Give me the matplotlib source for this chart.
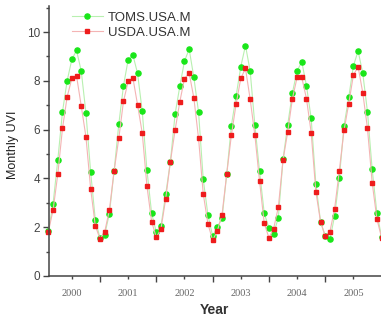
"""Monthly UVI 2000-2005: TOMS satellite vs USDA ground network (USA means)."""
import numpy as np
import matplotlib
matplotlib.use("Agg")
import matplotlib.pyplot as plt

years = [2000, 2001, 2002, 2003, 2004, 2005]
year_labels = ["2000", "2001", "2002", "2003", "2004", "2005"]

# monthly values Jan..Dec, one row per year
toms = [
    [1.85, 2.97, 4.75, 6.73, 8.01, 8.88, 9.25, 8.40, 6.69, 4.27, 2.30, 1.55],
    [1.70, 2.56, 4.30, 6.22, 7.80, 8.87, 9.07, 8.31, 6.75, 4.34, 2.57, 1.80],
    [2.06, 3.35, 4.69, 6.64, 7.77, 8.81, 9.30, 8.14, 6.72, 3.96, 2.50, 1.64],
    [2.01, 2.36, 4.17, 6.17, 7.38, 8.58, 9.45, 8.40, 6.19, 4.29, 2.57, 1.98],
    [1.73, 2.39, 4.78, 6.20, 7.51, 8.41, 8.78, 7.80, 6.46, 3.78, 2.23, 1.62],
    [1.50, 2.47, 4.02, 6.16, 7.32, 8.61, 9.23, 8.31, 6.73, 4.37, 2.60, 1.60],
]
usda = [
    [1.82, 2.71, 4.17, 6.05, 7.35, 8.10, 8.20, 6.97, 5.71, 3.58, 2.06, 1.52],
    [1.81, 2.71, 4.30, 5.64, 7.16, 7.98, 8.13, 7.02, 5.86, 3.69, 2.23, 1.58],
    [1.94, 3.17, 4.69, 5.98, 7.14, 8.09, 8.32, 7.30, 5.64, 3.37, 2.14, 1.46],
    [1.85, 2.51, 4.17, 5.78, 7.05, 8.10, 8.51, 7.25, 5.78, 3.89, 2.16, 1.57],
    [1.94, 2.82, 4.75, 5.91, 7.27, 8.14, 8.14, 7.27, 5.88, 3.46, 2.22, 1.64],
    [1.82, 2.76, 4.32, 5.97, 7.06, 8.24, 8.58, 7.51, 6.05, 3.83, 2.35, 1.57],
]


def main():
    plt.rcParams["font.family"] = ["Liberation Sans", "DejaVu Sans"]
    t = np.array([y + m / 12 for y in years for m in range(1, 13)])
    g = np.array(toms).ravel()
    r = np.array(usda).ravel()

    fig = plt.figure(figsize=(3.81, 3.20), dpi=100)
    ax = fig.add_axes([49 / 381, 44 / 320, 341 / 381, 270 / 320])

    ax.plot(t, g, "-o", color="#b8f0b0", lw=0.8, mfc="#19e619", mec="#19e619", ms=3.7,
            label="TOMS.USA.M", clip_on=False)
    ax.plot(t, r, "-s", color="#f4b4b4", lw=0.8, mfc="#ee1c1c", mec="#ee1c1c", ms=3.5,
            label="USDA.USA.M", clip_on=False)

    ax.set_xlim(2000.094, 2006.15)
    ax.set_ylim(0, 11.07)

    ax.set_xticks([y + 1 for y in years], labels=[""] * len(years))
    ax.set_xticks([y + 0.5 for y in years], labels=year_labels, minor=True)
    ax.set_yticks([0, 2, 4, 6, 8, 10])
    ax.set_yticks([1, 3, 5, 7, 9, 11], minor=True)

    ax.tick_params(axis="both", which="major", direction="out", length=4, width=1, color="#444")
    ax.tick_params(axis="both", which="minor", direction="out", length=2.5, width=1, color="#444")
    ax.tick_params(axis="x", which="minor", pad=7, labelsize=7.5, labelcolor="#666")
    ax.tick_params(axis="y", which="major", pad=2.5, labelsize=8.5, labelcolor="#444")
    for lab in ax.get_xticklabels(minor=True):
        lab.set_family(["Liberation Serif", "DejaVu Serif"])

    for s in ["top", "right"]:
        ax.spines[s].set_visible(False)
    for s in ["left", "bottom"]:
        ax.spines[s].set_color("#444")
        ax.spines[s].set_linewidth(1.1)

    ax.set_xlabel("Year", fontsize=10, fontweight="bold", color="#333")
    ax.xaxis.set_label_coords((214 - 49) / 341, -(303 - 276) / 270)
    ax.set_ylabel("Monthly UVI", fontsize=9, color="#222")
    ax.yaxis.set_label_coords(-(49 - 19) / 341, (276 - 145) / 270)

    ax.legend(loc="upper left", bbox_to_anchor=(18 / 341, 1.0), frameon=False,
              fontsize=9.5, handlelength=2.3, handletextpad=0.4, labelspacing=0.25,
              borderaxespad=0.0, labelcolor="#333")

    fig.savefig("out.png", dpi=100)


if __name__ == "__main__":
    main()
